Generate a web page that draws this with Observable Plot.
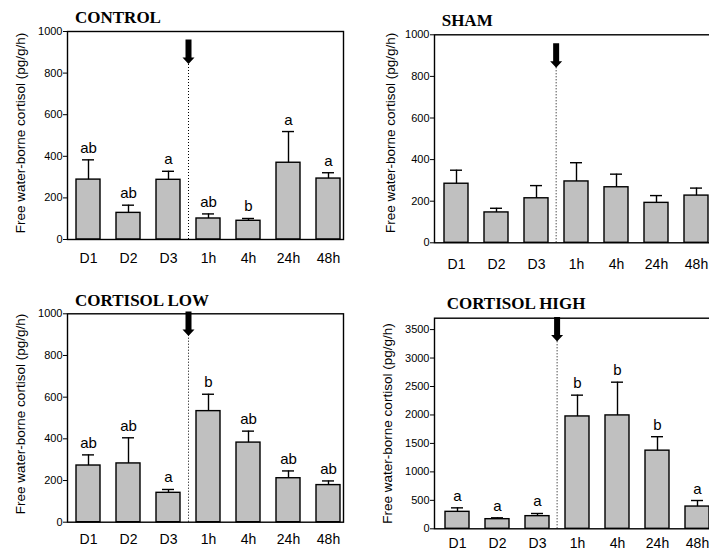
<!DOCTYPE html>
<html><head><meta charset="utf-8">
<script src="https://cdn.jsdelivr.net/npm/d3@7"></script>
<script src="https://cdn.jsdelivr.net/npm/@observablehq/plot@0.6"></script>
<style>
body{margin:0;background:#fff;}
#root{position:relative;width:709px;height:551px;overflow:hidden;background:#fff;}
.panel{position:absolute;}
.title{position:absolute;font-family:"Liberation Serif","Times New Roman",serif;font-weight:bold;font-size:17px;line-height:17px;white-space:nowrap;color:#000;}
</style></head><body><div id="root"></div>
<script>
// ---- data ----
const categories = ["D1", "D2", "D3", "1h", "4h", "24h", "48h"];
const yLabel = "Free water-borne cortisol (pg/g/h)";

const controlMean = [288, 128, 287, 101, 90, 369, 293];
const controlSem = [95, 37, 41, 22, 11, 150, 28];
const controlLetters = ["ab", "ab", "a", "ab", "b", "a", "a"];

const shamMean = [284, 146, 214, 295, 267, 192, 227];
const shamSem = [65, 20, 61, 90, 63, 35, 36];
const shamLetters = ["", "", "", "", "", "", ""];

const lowMean = [272, 282, 141, 533, 382, 211, 178];
const lowSem = [51, 123, 16, 81, 55, 35, 20];
const lowLetters = ["ab", "ab", "a", "b", "ab", "ab", "ab"];

const highMean = [298, 169, 222, 1974, 1992, 1373, 391];
const highSem = [70, 24, 47, 374, 584, 245, 106];
const highLetters = ["a", "a", "a", "b", "b", "b", "a"];

const ticks1000 = [0, 200, 400, 600, 800, 1000];
const ticks3500 = [0, 500, 1000, 1500, 2000, 2500, 3000, 3500];
const treatmentAt = "1h"; // treatment applied between D3 and 1h

const panels = [
  {title: "CONTROL", mean: controlMean, sem: controlSem, letters: controlLetters, yMax: 1000, ticks: ticks1000, arrowY: 875,
   left: 0, top: 0, mL: 67, mR: 17, mT: 31, mB: 41, xr: [68, 348], tp: 14, ldy: -2.5, ldx: -47, step: 40, tl: 75, tt: 9},
  {title: "SHAM", mean: shamMean, sem: shamSem, letters: shamLetters, yMax: 1000, ticks: ticks1000, arrowY: 873,
   left: 360, top: 0, mL: 74, mR: 9, mT: 34.3, mB: 37.7, xr: [74, 358.7], tp: 16, ldy: -6, ldx: -44, step: 40.7, tl: 441.7, tt: 12.4},
  {title: "CORTISOL LOW", mean: lowMean, sem: lowSem, letters: lowLetters, yMax: 1000, ticks: ticks1000, arrowY: 925,
   left: 0, top: 280, mL: 67, mR: 17, mT: 33.3, mB: 38.3, xr: [68, 348], tp: 11.7, ldy: -4, ldx: -47, step: 40, tl: 75, tt: 292.4},
  {title: "CORTISOL HIGH", mean: highMean, sem: highSem, letters: highLetters, yMax: 3700, ticks: ticks3500, arrowY: 3405,
   left: 360, top: 280, mL: 74, mR: 9, mT: 37.7, mB: 31.7, xr: [74.6, 359.9], tp: 9.2, ldy: 0, ldx: -47, step: 40.8, tl: 446.7, tt: 295}
];

const arrowSymbol = {
  draw(ctx) {
    ctx.moveTo(-3, -18); ctx.lineTo(3, -18); ctx.lineTo(3, 0); ctx.lineTo(6, 0);
    ctx.lineTo(0, 6.5); ctx.lineTo(-6, 0); ctx.lineTo(-3, 0); ctx.closePath();
  }
};

const root = document.getElementById("root");
const FONT = "'Liberation Sans', Arial, sans-serif";

for (const p of panels) {
  const data = categories.map((c, i) => ({cat: c, mean: p.mean[i], sem: p.sem[i], letter: p.letters[i]}));
  const marker = [{cat: treatmentAt, y: p.arrowY}];
  const W = 360, H = 280;
  const chart = Plot.plot({
    width: W, height: H,
    marginLeft: p.mL, marginRight: p.mR, marginTop: p.mT, marginBottom: p.mB,
    style: {background: "transparent", fontFamily: FONT, overflow: "visible", color: "black"},
    x: {type: "band", domain: categories, range: p.xr, paddingInner: 0.4, paddingOuter: 0.2},
    y: {domain: [0, p.yMax]},
    marks: [
      Plot.barY(data, {x: "cat", y: "mean", fill: "#c0c0c0", stroke: "black", strokeWidth: 1.4}),
      Plot.ruleX(data, {x: "cat", y1: "mean", y2: d => d.mean + d.sem, stroke: "black", strokeWidth: 1.4}),
      Plot.tickY(data, {x: "cat", y: d => d.mean + d.sem, stroke: "black", strokeWidth: 1.4, insetLeft: 6, insetRight: 6}),
      Plot.text(data.filter(d => d.letter), {x: "cat", y: d => d.mean + d.sem, text: "letter", dy: -7, lineAnchor: "bottom", fontSize: 15, fill: "black"}),
      Plot.ruleX(marker, {x: "cat", y1: 0, y2: "y", dx: -p.step / 2, stroke: "black", strokeWidth: 1, strokeDasharray: "1,2"}),
      Plot.dot(marker, {x: "cat", y: "y", dx: -p.step / 2, symbol: arrowSymbol, r: 6, fill: "black", stroke: "none"}),
      Plot.frame({stroke: "black", strokeWidth: 1.4}),
      Plot.axisY({ticks: p.ticks, tickSize: 4, tickPadding: 1, fontSize: 11, label: null, tickFormat: d => String(d)}),
      Plot.axisX({tickSize: 0, tickPadding: p.tp, fontSize: 14, label: null}),
      Plot.text([yLabel], {frameAnchor: "left", text: d => d, rotate: -90, textAnchor: "middle", lineAnchor: "middle", dx: p.ldx, dy: p.ldy, fontSize: 13.5, fill: "black"})
    ]
  });
  chart.classList.add("panel");
  chart.style.left = p.left + "px";
  chart.style.top = p.top + "px";
  root.appendChild(chart);

  const t = document.createElement("div");
  t.className = "title";
  t.textContent = p.title;
  t.style.left = p.tl + "px";
  t.style.top = p.tt + "px";
  root.appendChild(t);
}
</script>
</body></html>
